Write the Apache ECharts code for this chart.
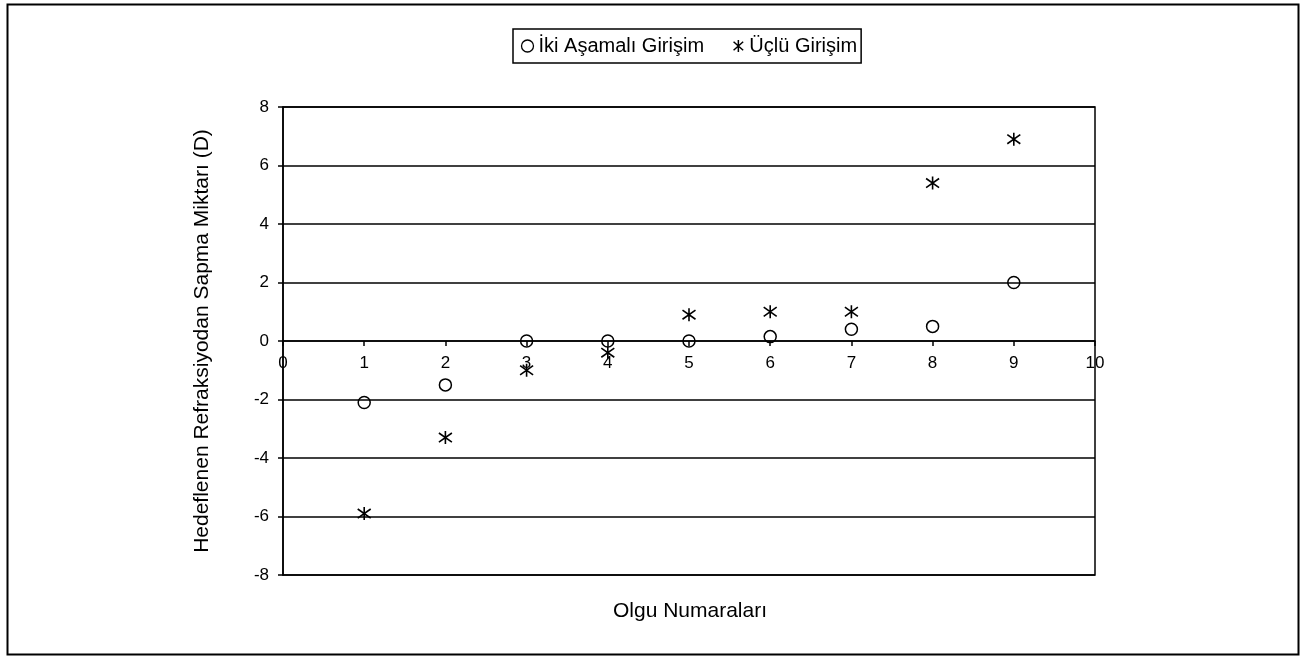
<!DOCTYPE html>
<html><head><meta charset="utf-8">
<script src="https://cdn.jsdelivr.net/npm/echarts@6/dist/echarts.min.js"></script>
<style>html,body{margin:0;padding:0;background:#fff}#c{width:1304px;height:656px}</style>
</head><body><div id="c"></div>
<script>
const caseNumbers = [1, 2, 3, 4, 5, 6, 7, 8, 9];
const ikiAsamali = [-2.1, -1.5, 0, 0, 0, 0.15, 0.4, 0.5, 2.0];
const ucluGirisim = [-5.9, -3.3, -1.0, -0.4, 0.9, 1.0, 1.0, 5.4, 6.9];
const seriesNames = ['İki Aşamalı Girişim', 'Üçlü Girişim'];
const xTicks = [0, 1, 2, 3, 4, 5, 6, 7, 8, 9, 10];
const yTicks = [-8, -6, -4, -2, 0, 2, 4, 6, 8];
const xTitle = 'Olgu Numaraları';
const yTitle = 'Hedeflenen Refraksiyodan Sapma Miktarı (D)';

const font = 'Liberation Sans, Arial, sans-serif';
const starPath = 'path://M0,-10 L0,10 M-8,-7 L8,7 M-8,7 L8,-7';

const chart = echarts.init(document.getElementById('c'), null, {renderer: 'canvas'});
chart.setOption({
  backgroundColor: '#fff',
  animation: false,
  graphic: [{
    type: 'rect', left: 5, top: 2, silent: true,
    shape: {width: 1291, height: 650},
    style: {fill: 'none', stroke: '#000', lineWidth: 2}
  }, {
    type: 'text', x: 690, y: 611, silent: true,
    style: {text: xTitle, fontFamily: font, fontSize: 21, fill: '#000', align: 'center', verticalAlign: 'middle'}
  }],
  legend: {
    left: 513, top: 29,
    padding: [7, 4, 7, 6],
    borderColor: '#000', borderWidth: 1.5,
    itemGap: 27, itemWidth: 12, itemHeight: 12,
    textStyle: {fontFamily: font, fontSize: 20, color: '#000'},
    data: [
      {name: seriesNames[0], icon: 'circle', itemStyle: {color: 'none', borderColor: '#000', borderWidth: 1.3}},
      {name: seriesNames[1], icon: starPath, itemStyle: {color: 'none', borderColor: '#000', borderWidth: 1.5}}
    ]
  },
  grid: {
    left: 283, right: 209, top: 107, bottom: 81,
    containLabel: false, outerBoundsMode: 'none',
    show: true, borderColor: '#000', borderWidth: 1.5, backgroundColor: 'transparent'
  },
  xAxis: {
    type: 'value', min: xTicks[0], max: xTicks[xTicks.length - 1], interval: 1,
    axisLine: {show: true, onZero: true, lineStyle: {color: '#000', width: 1.5}},
    axisTick: {show: true, inside: false, length: 5, lineStyle: {color: '#000', width: 1.5}},
    axisLabel: {fontFamily: font, fontSize: 17, color: '#000', margin: -220},
    splitLine: {show: false}
  },
  yAxis: {
    type: 'value', min: yTicks[0], max: yTicks[yTicks.length - 1], interval: 2,
    name: yTitle, nameLocation: 'middle', nameGap: 70,
    nameTextStyle: {fontFamily: font, fontSize: 21, color: '#000'},
    axisLine: {show: true, lineStyle: {color: '#000', width: 1.5}},
    axisTick: {show: true, length: 5, lineStyle: {color: '#000', width: 1.5}},
    axisLabel: {fontFamily: font, fontSize: 17, color: '#000', margin: 14},
    splitLine: {show: true, lineStyle: {color: '#000', width: 1.5}}
  },
  series: [
    {
      name: seriesNames[0], type: 'scatter', symbol: 'circle', symbolSize: 12,
      itemStyle: {color: 'none', borderColor: '#000', borderWidth: 1.5, opacity: 1},
      data: caseNumbers.map((x, i) => [x, ikiAsamali[i]]), z: 3
    },
    {
      name: seriesNames[1], type: 'scatter', symbol: starPath, symbolSize: 13,
      itemStyle: {color: 'none', borderColor: '#000', borderWidth: 1.6, opacity: 1},
      data: caseNumbers.map((x, i) => [x, ucluGirisim[i]]), z: 4
    }
  ]
});
</script></body></html>
